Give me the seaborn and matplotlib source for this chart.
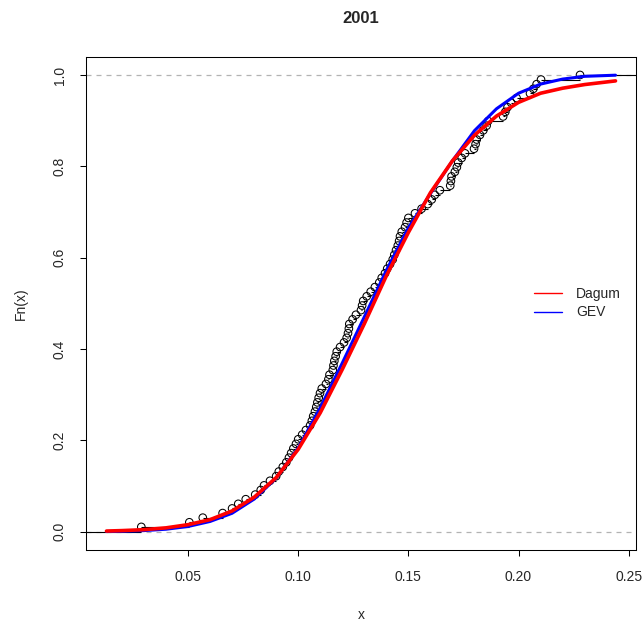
import numpy as np
import pandas as pd
import matplotlib
matplotlib.use('Agg')
import matplotlib.pyplot as plt
from matplotlib.lines import Line2D
import seaborn as sns

sample_x = [
    0.0288, 0.0506, 0.0567, 0.0657, 0.0700, 0.0728, 0.0762, 0.0805, 0.0830, 0.0845,
    0.0872, 0.0900, 0.0912, 0.0930, 0.0946, 0.0958, 0.0968, 0.0978, 0.0990, 0.1000,
    0.1018, 0.1035, 0.1054, 0.1062, 0.1068, 0.1076, 0.1082, 0.1087, 0.1093, 0.1099,
    0.1107, 0.1126, 0.1137, 0.1142, 0.1157, 0.1160, 0.1164, 0.1170, 0.1175, 0.1190,
    0.1208, 0.1220, 0.1226, 0.1230, 0.1232, 0.1247, 0.1262, 0.1285, 0.1290, 0.1295,
    0.1311, 0.1329, 0.1348, 0.1368, 0.1379, 0.1394, 0.1404, 0.1417, 0.1429, 0.1436,
    0.1444, 0.1452, 0.1458, 0.1462, 0.1470, 0.1485, 0.1492, 0.1500, 0.1530, 0.1560,
    0.1588, 0.1606, 0.1620, 0.1643, 0.1690, 0.1693, 0.1696, 0.1711, 0.1720, 0.1726,
    0.1742, 0.1757, 0.1798, 0.1805, 0.1810, 0.1825, 0.1840, 0.1855, 0.1862, 0.1930,
    0.1940, 0.1950, 0.1966, 0.1991, 0.2052, 0.2067, 0.2082, 0.2102, 0.2279]

# fitted CDF curves
curve_x = [0.013, 0.02, 0.03, 0.04, 0.05, 0.06, 0.07, 0.08, 0.09, 0.10, 0.11, 0.12,
           0.13, 0.14, 0.15, 0.16, 0.17, 0.18, 0.19, 0.20, 0.21, 0.22, 0.23, 0.244]
dagum_cdf = [0.001, 0.002, 0.004, 0.008, 0.015, 0.026, 0.045, 0.075, 0.118, 0.18, 0.26, 0.355,
             0.455, 0.56, 0.655, 0.742, 0.812, 0.868, 0.91, 0.94, 0.96, 0.971, 0.979, 0.987]
gev_cdf = [0.0, 0.0005, 0.002, 0.005, 0.011, 0.022, 0.040, 0.071, 0.117, 0.183, 0.271, 0.369,
           0.470, 0.572, 0.665, 0.740, 0.812, 0.878, 0.926, 0.96, 0.98, 0.991, 0.997, 0.9995]

x_ticks = [0.05, 0.10, 0.15, 0.20, 0.25]
x_ticklabels = ['0.05', '0.10', '0.15', '0.20', '0.25']
y_ticks = [0.0, 0.2, 0.4, 0.6, 0.8, 1.0]
y_ticklabels = ['0.0', '0.2', '0.4', '0.6', '0.8', '1.0']

sns.set_style('white')
plt.rcParams['font.family'] = ['Liberation Sans', 'DejaVu Sans']
fs = 10

fig = plt.figure(figsize=(6.42, 6.25), dpi=100)
ax = fig.add_axes([86/642, 1 - 550/625, 550/642, 493.3/625])

ax.set_xlim(0.0037, 0.2533)
ax.set_ylim(-0.0405, 1.040)

# reference lines at 0 and 1
ax.axhline(0, color='#b3b3b3', lw=0.9, ls=(0, (4, 4)), zorder=1)
ax.axhline(1, color='#b3b3b3', lw=0.9, ls=(0, (4, 4)), zorder=1)

# ecdf steps
xs = np.array(sample_x)
n = len(xs)
fn = np.arange(1, n + 1) / n
right = np.append(xs[1:], 1.0)
ax.hlines(fn, xs, right, color='black', lw=0.8, zorder=2)
ax.hlines(0, -1.0, xs[0], color='black', lw=0.8, zorder=2)
ax.scatter(xs, fn, s=30, facecolors='none', edgecolors='black', linewidths=0.75, zorder=3)

curves = pd.DataFrame({'x': curve_x, 'Dagum': dagum_cdf, 'GEV': gev_cdf})
sns.lineplot(data=curves, x='x', y='GEV', color='blue', lw=2.2, ax=ax, zorder=4)
sns.lineplot(data=curves, x='x', y='Dagum', color='red', lw=2.6, ax=ax, zorder=5)

ax.set_xticks(x_ticks)
ax.set_xticklabels(x_ticklabels, fontsize=fs)
ax.set_yticks(y_ticks)
ax.set_yticklabels(y_ticklabels, fontsize=fs, rotation=90, va='center')
ax.tick_params(axis='both', direction='out', length=4.5, width=0.75, color='black',
               bottom=True, left=True)
ax.tick_params(axis='x', pad=10)
ax.tick_params(axis='y', pad=9.5)

for sp in ax.spines.values():
    sp.set_visible(True)
    sp.set_color('black')
    sp.set_linewidth(0.75)

ax.set_xlabel('')
ax.set_ylabel('')
ax.text(0.5, -0.132, 'x', transform=ax.transAxes, ha='center', va='center', fontsize=fs)
ax.text(-0.118, 0.5, 'Fn(x)', transform=ax.transAxes, ha='center', va='center',
        rotation=90, fontsize=fs)
ax.text(0.5, 1.078, '2001', transform=ax.transAxes, ha='center', va='center',
        fontsize=12, fontweight='bold')

handles = [Line2D([], [], color='red', lw=1), Line2D([], [], color='blue', lw=1)]
ax.legend(handles, ['Dagum', 'GEV'], loc='center left', bbox_to_anchor=(0.815, 0.50),
          frameon=False, fontsize=fs, handlelength=2.0, handletextpad=1.0,
          labelspacing=0.3, borderpad=0, borderaxespad=0)

fig.savefig('out.png', dpi=100)
